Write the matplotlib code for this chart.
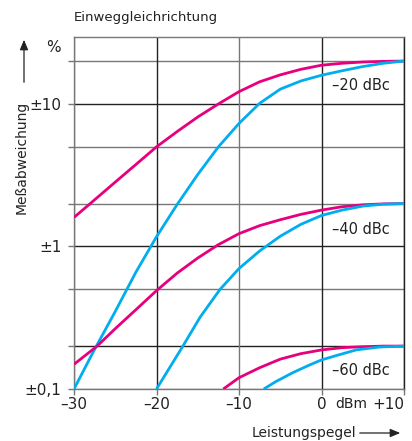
import numpy as np
import matplotlib
matplotlib.use("Agg")
from matplotlib import pyplot as plt

# values (x in dBm, y in %)
x_lin_20 = [-30, -28.3, -25, -22.5, -20, -17.5, -15, -12.5, -10, -7.5, -5, -2.5, 0, 2.5, 5, 7.5, 10]
y_lin_20 = [1.6, 1.94, 2.83, 3.76, 5.0, 6.4, 8.1, 10.0, 12.2, 14.3, 16.0, 17.5, 18.7, 19.3, 19.7, 19.9, 20.0]
x_sq_20 = [-30, -27.5, -25, -22.5, -20, -17.5, -15, -12.5, -10, -7.5, -5, -2.5, 0, 2.5, 5, 7.5, 10]
y_sq_20 = [0.1, 0.19, 0.35, 0.66, 1.17, 1.97, 3.2, 5.0, 7.3, 10.1, 12.7, 14.5, 15.9, 17.1, 18.3, 19.3, 20.0]

x_lin_40 = [-30, -27.2, -25, -22.5, -20, -17.5, -15, -12.5, -10, -7.5, -5, -2.5, 0, 2.5, 5, 7.5, 10]
y_lin_40 = [0.149, 0.2, 0.265, 0.36, 0.49, 0.65, 0.83, 1.03, 1.23, 1.40, 1.54, 1.68, 1.80, 1.90, 1.96, 1.99, 2.0]
x_sq_40 = [-20, -16.8, -14.7, -12.3, -10, -7.5, -5, -2.5, 0, 2.5, 5, 7.5, 10]
y_sq_40 = [0.1, 0.2, 0.32, 0.5, 0.70, 0.93, 1.18, 1.43, 1.65, 1.80, 1.92, 1.98, 2.0]

x_lin_60 = [-11.9, -10, -7.5, -5, -2.5, 0, 2.5, 5, 7.5, 10]
y_lin_60 = [0.1, 0.12, 0.141, 0.162, 0.177, 0.188, 0.195, 0.198, 0.2, 0.2]
x_sq_60 = [-7.0, -5.5, -3.5, -1.5, 0, 2, 4.2, 7, 10]
y_sq_60 = [0.1, 0.113, 0.13, 0.147, 0.16, 0.173, 0.188, 0.197, 0.2]

dbc_labels = ["\u201320 dBc", "\u201340 dBc", "\u201360 dBc"]
dbc_y = [13.4, 1.32, 0.134]

xticks = [-30, -20, -10, 0, 10]
xticklabels = ["\u201330", "\u201320", "\u201310", "0", "+10"]
yticks = [0.1, 1, 10]
yticklabels = ["\u00b10,1", "\u00b11", "\u00b110"]
ygrid = [0.1, 0.2, 0.5, 1, 2, 5, 10, 20]

MAG = "#e6007e"
CYA = "#00aeef"

plt.rcParams["font.family"] = ["DejaVu Sans"]

fig = plt.figure(figsize=(4.12, 4.41), dpi=100)
ax = fig.add_axes([74/412, 1-389/441, 330/412, 352/441])
ax.set_yscale("log")
ax.set_xlim(-30, 10)
ax.set_ylim(0.1, 29.5)

dark = "#222222"
light = "#777777"
for v in ygrid:
    c = dark if v in (0.2, 1, 10) else light
    ax.axhline(v, color=c, lw=1.0, zorder=1)
for v in xticks:
    c = dark if v in (-20, 0, 10) else light
    ax.axvline(v, color=c, lw=1.0, zorder=1)

for sp in ax.spines.values():
    sp.set_color(light)
    sp.set_linewidth(1.0)
ax.spines["right"].set_color(dark)

lw = 2.0
curves = [(x_lin_20, y_lin_20, MAG), (x_sq_20, y_sq_20, CYA),
          (x_lin_40, y_lin_40, MAG), (x_sq_40, y_sq_40, CYA),
          (x_lin_60, y_lin_60, MAG), (x_sq_60, y_sq_60, CYA)]
for xs, ys, col in curves:
    ax.plot(xs, ys, color=col, lw=lw, zorder=3, solid_capstyle="butt", solid_joinstyle="round")

for lab, yy in zip(dbc_labels, dbc_y):
    ax.text(4.8, yy, lab, ha="center", va="center", fontsize=10.5, color="#222222")

# ticks
ax.set_yticks(ygrid)
ax.set_yticklabels(["" if v not in yticks else yticklabels[yticks.index(v)] for v in ygrid])
ax.yaxis.set_minor_locator(matplotlib.ticker.NullLocator())
ax.set_xticks(xticks)
ax.set_xticklabels(xticklabels)
ax.get_xticklabels()[-1].set_ha("right")
ax.tick_params(axis="both", direction="out", length=4, width=1.0, color=light,
               labelsize=11, labelcolor="#222222")
ax.tick_params(axis="y", pad=5)
ax.tick_params(axis="x", pad=2)

tr = matplotlib.transforms.blended_transform_factory(ax.transAxes, ax.transData)
ax.text(-13/330, 24.7, "%", transform=tr, ha="right", va="center", fontsize=11, color="#222222")
# "dBm" sits on the tick label row
off = matplotlib.transforms.ScaledTranslation(0, -8/100, fig.dpi_scale_trans)
ax.text(3.6, 0.1, "dBm", ha="center", va="top", fontsize=10, color="#222222",
        transform=ax.transData + off)

fig.text(74/412, 1-18/441, "Einweggleichrichtung", ha="left", va="center", fontsize=9.5, color="#222222")

# axis titles with arrows
fig.text(252/412, 1-433/441, "Leistungspegel", ha="left", va="center", fontsize=10, color="#222222")
fig.add_artist(matplotlib.patches.FancyArrowPatch((357/412, 1-433/441), (403/412, 1-433/441),
               transform=fig.transFigure, arrowstyle="-|>,head_length=6,head_width=2.5",
               color="#222222", lw=0.9, mutation_scale=1))
fig.text(22/412, 1-157/441, "Me\u00dfabweichung", ha="center", va="center", rotation=90,
         fontsize=10, color="#222222")
fig.add_artist(matplotlib.patches.FancyArrowPatch((24/412, 1-85/441), (24/412, 1-37/441),
               transform=fig.transFigure, arrowstyle="-|>,head_length=6,head_width=2.5",
               color="#222222", lw=0.9, mutation_scale=1))

fig.savefig("out.png", dpi=100)
